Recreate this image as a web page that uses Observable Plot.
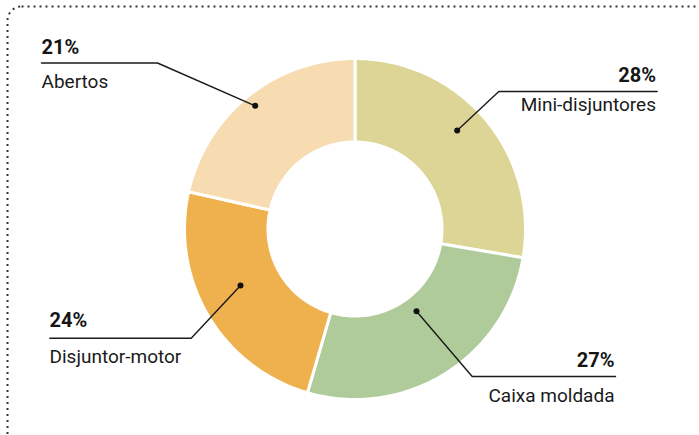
<!DOCTYPE html>
<html><head><meta charset="utf-8">
<script src="https://cdn.jsdelivr.net/npm/d3@7"></script>
<script src="https://cdn.jsdelivr.net/npm/@observablehq/plot@0.6"></script>
<style>html,body{margin:0;padding:0;background:#fff;overflow:hidden}</style>
</head><body><div id="chart"></div>
<script>
// ---- data ----
const categories = ["Mini-disjuntores", "Caixa moldada", "Disjuntor-motor", "Abertos"];
// slice sizes (labels show rounded values)
const shares = [27.7, 26.8, 24.0, 21.5];
const shareLabels = ["28%", "27%", "24%", "21%"];
const colors = ["#dcd596", "#b0cb9a", "#eeb14e", "#f6dcb0"];

// ---- layout (center-relative units, y down) ----
const W = 699, H = 435, CX = 354.5, CY = 228.5, R_OUT = 170.5, R_IN = 87;
const layout = {
  "Mini-disjuntores": {dot: [102.2, -98.5], elbow: [143.8, -137.5], end: 302.2, anchor: "end", tx: 301, pctY: -146.8, nameY: -117.8},
  "Caixa moldada":    {dot: [61.5, 82.2],   elbow: [117.2, 147.5],  end: 260.5, anchor: "end", tx: 259.5, pctY: 138.2, nameY: 172.5},
  "Disjuntor-motor":  {dot: [-114.5, 56.5], elbow: [-163.8, 109.2], end: -305.2, anchor: "start", tx: -305.5, pctY: 97.5, nameY: 133.8},
  "Abertos":          {dot: [-99.8, -123.2], elbow: [-197.5, -166], end: -313.5, anchor: "start", tx: -313.5, pctY: -175.2, nameY: -141.2}
};

const arcs = d3.pie().sort(null).value(d => d)(shares);
function slicePoints(a, cat) {
  const n = 80, pts = [];
  for (let i = 0; i <= n; i++) {
    const t = a.startAngle + (a.endAngle - a.startAngle) * i / n;
    pts.push({cat, x: R_OUT * Math.sin(t), y: -R_OUT * Math.cos(t)});
  }
  for (let i = n; i >= 0; i--) {
    const t = a.startAngle + (a.endAngle - a.startAngle) * i / n;
    pts.push({cat, x: R_IN * Math.sin(t), y: -R_IN * Math.cos(t)});
  }
  return pts;
}

const leaderPts = [], dotPts = [], pctText = [], nameText = [];
categories.forEach((c, i) => {
  const L = layout[c];
  leaderPts.push({cat: c, x: L.dot[0], y: L.dot[1]}, {cat: c, x: L.elbow[0], y: L.elbow[1]}, {cat: c, x: L.end, y: L.elbow[1]});
  dotPts.push({cat: c, x: L.dot[0], y: L.dot[1]});
  pctText.push({cat: c, x: L.tx, y: L.pctY, text: shareLabels[i], anchor: L.anchor});
  nameText.push({cat: c, x: L.tx, y: L.nameY, text: c, anchor: L.anchor});
});

const textMarks = [];
["start", "end"].forEach(anc => {
  textMarks.push(Plot.text(pctText.filter(d => d.anchor === anc), {x: "x", y: "y", text: "text", textAnchor: anc, lineAnchor: "bottom", fontSize: 20, fontWeight: "bold", fill: "#151515"}));
  textMarks.push(Plot.text(nameText.filter(d => d.anchor === anc), {x: "x", y: "y", text: "text", textAnchor: anc, lineAnchor: "bottom", fontSize: 19, fill: "#1a1a1a"}));
});

const chart = Plot.plot({
  width: W, height: H,
  margin: 0,
  style: {fontFamily: "Roboto", background: "#fff"},
  x: {domain: [-CX, W - CX], range: [0, W], axis: null},
  y: {domain: [-CY, H - CY], range: [0, H], axis: null},
  marks: [
    Plot.frame({stroke: "#333", strokeWidth: 2, strokeDasharray: "2,4", rx: 14, insetLeft: 7, insetTop: 6, insetRight: -30, insetBottom: -30}),
    ...arcs.map((a, i) => Plot.line(slicePoints(a, categories[i]), {x: "x", y: "y", fill: colors[i], stroke: "white", strokeWidth: 3, curve: "linear-closed"})),
    Plot.line(leaderPts, {x: "x", y: "y", z: "cat", stroke: "#1a1a1a", strokeWidth: 1.4}),
    Plot.dot(dotPts, {x: "x", y: "y", r: 3, fill: "#111"}),
    ...textMarks
  ]
});
document.getElementById("chart").appendChild(chart);
</script>
</body></html>
